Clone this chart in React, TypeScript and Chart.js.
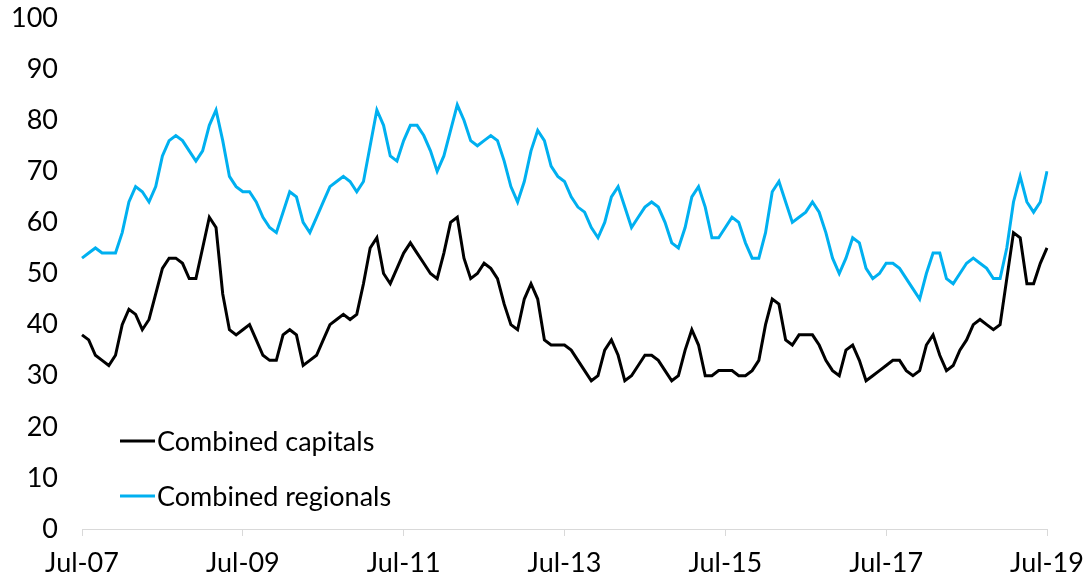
import React, { useEffect, useRef } from "react";
import { Chart, registerables } from "chart.js";

Chart.register(...registerables);

// Monthly categories, Jul-07 .. Jul-19
const monthNames = ["Jan", "Feb", "Mar", "Apr", "May", "Jun", "Jul", "Aug", "Sep", "Oct", "Nov", "Dec"];
const categories: string[] = [];
for (let i = 0; i < 145; i++) {
  const m = (6 + i) % 12;
  const y = 7 + Math.floor((6 + i) / 12);
  categories.push(`${monthNames[m]}-${String(y).padStart(2, "0")}`);
}

const tickLabels = ["Jul-07", "Jul-09", "Jul-11", "Jul-13", "Jul-15", "Jul-17", "Jul-19"];
const yTicks = [0, 10, 20, 30, 40, 50, 60, 70, 80, 90, 100];

const seriesNames = ["Combined capitals", "Combined regionals"];

const capitals = [
  38, 37, 34, 33, 32, 34, 40, 43, 42, 39, 41, 46, 51,
  53, 53, 52, 49, 49, 55, 61, 59, 46, 39, 38, 39,
  40, 37, 34, 33, 33, 38, 39, 38, 32, 33, 34, 37,
  40, 41, 42, 41, 42, 48, 55, 57, 50, 48, 51, 54,
  56, 54, 52, 50, 49, 54, 60, 61, 53, 49, 50, 52,
  51, 49, 44, 40, 39, 45, 48, 45, 37, 36, 36, 36,
  35, 33, 31, 29, 30, 35, 37, 34, 29, 30, 32, 34,
  34, 33, 31, 29, 30, 35, 39, 36, 30, 30, 31, 31,
  31, 30, 30, 31, 33, 40, 45, 44, 37, 36, 38, 38,
  38, 36, 33, 31, 30, 35, 36, 33, 29, 30, 31, 32,
  33, 33, 31, 30, 31, 36, 38, 34, 31, 32, 35, 37,
  40, 41, 40, 39, 40, 49, 58, 57, 48, 48, 52, 55,
];

const regionals = [
  53, 54, 55, 54, 54, 54, 58, 64, 67, 66, 64, 67, 73,
  76, 77, 76, 74, 72, 74, 79, 82, 76, 69, 67, 66,
  66, 64, 61, 59, 58, 62, 66, 65, 60, 58, 61, 64,
  67, 68, 69, 68, 66, 68, 75, 82, 79, 73, 72, 76,
  79, 79, 77, 74, 70, 73, 78, 83, 80, 76, 75, 76,
  77, 76, 72, 67, 64, 68, 74, 78, 76, 71, 69, 68,
  65, 63, 62, 59, 57, 60, 65, 67, 63, 59, 61, 63,
  64, 63, 60, 56, 55, 59, 65, 67, 63, 57, 57, 59,
  61, 60, 56, 53, 53, 58, 66, 68, 64, 60, 61, 62,
  64, 62, 58, 53, 50, 53, 57, 56, 51, 49, 50, 52,
  52, 51, 49, 47, 45, 50, 54, 54, 49, 48, 50, 52,
  53, 52, 51, 49, 49, 55, 64, 69, 64, 62, 64, 70,
];

const FONT_FAMILY = "Lato, 'Liberation Sans', Arial, sans-serif";
const FONT_SIZE = 27;
const CAP_COLOR = "#000000";
const REG_COLOR = "#00B0F0";
const AXIS_COLOR = "#D9D9D9";

const insideLegend = {
  id: "insideLegend",
  afterDraw(chart: any) {
    const ctx = chart.ctx;
    const rows = [
      { y: 441, ds: 0 },
      { y: 496, ds: 1 },
    ];
    ctx.save();
    ctx.font = `${FONT_SIZE}px ${FONT_FAMILY}`;
    ctx.textBaseline = "middle";
    ctx.textAlign = "left";
    rows.forEach((r) => {
      const ds = chart.data.datasets[r.ds];
      ctx.strokeStyle = ds.borderColor;
      ctx.lineWidth = 3;
      ctx.beginPath();
      ctx.moveTo(120, r.y);
      ctx.lineTo(155, r.y);
      ctx.stroke();
      ctx.fillStyle = "#000";
      ctx.fillText(ds.label, 157, r.y + 1);
    });
    ctx.restore();
  },
};

export default function App() {
  const ref = useRef<HTMLCanvasElement | null>(null);

  useEffect(() => {
    if (!ref.current) return;
    const chart = new Chart(ref.current, {
      type: "line",
      data: {
        labels: categories,
        datasets: [
          {
            label: seriesNames[0],
            data: capitals,
            borderColor: CAP_COLOR,
            backgroundColor: CAP_COLOR,
            borderWidth: 3,
            pointRadius: 0,
            tension: 0,
            fill: false,
          },
          {
            label: seriesNames[1],
            data: regionals,
            borderColor: REG_COLOR,
            backgroundColor: REG_COLOR,
            borderWidth: 3,
            pointRadius: 0,
            tension: 0,
            fill: false,
          },
        ],
      },
      options: {
        responsive: false,
        maintainAspectRatio: false,
        animation: false,
        layout: { padding: { left: 0, right: 38, top: 18, bottom: 0 } },
        plugins: {
          legend: { display: false },
          tooltip: { enabled: false },
        },
        scales: {
          x: {
            type: "category",
            offset: false,
            grid: {
              display: true,
              drawOnChartArea: false,
              drawTicks: true,
              tickLength: 7,
              color: AXIS_COLOR,
            },
            border: { display: true, color: AXIS_COLOR, width: 1 },
            ticks: {
              autoSkip: false,
              maxRotation: 0,
              minRotation: 0,
              padding: 11,
              color: "#000",
              font: { family: FONT_FAMILY, size: FONT_SIZE },
              callback: (_v: any, i: number) => (i % 24 === 0 ? tickLabels[i / 24] : null),
            },
            afterFit: (s: any) => {
              s.height = 51;
              s.paddingLeft = 0;
              s.paddingRight = 0;
            },
          },
          y: {
            min: yTicks[0],
            max: yTicks[yTicks.length - 1],
            ticks: {
              stepSize: 10,
              padding: 24,
              color: "#000",
              font: { family: FONT_FAMILY, size: FONT_SIZE },
            },
            grid: { display: false, drawTicks: false },
            border: { display: false },
            afterFit: (s: any) => {
              s.width = 82;
              s.paddingTop = 0;
              s.paddingBottom = 0;
            },
          },
        },
      },
      plugins: [insideLegend],
    });
    return () => chart.destroy();
  }, []);

  return (
    <div style={{ position: "absolute", left: 0, top: 0, width: 1085, height: 580, background: "#fff" }}>
      <canvas ref={ref} width={1085} height={580} style={{ width: 1085, height: 580, display: "block" }} />
    </div>
  );
}
